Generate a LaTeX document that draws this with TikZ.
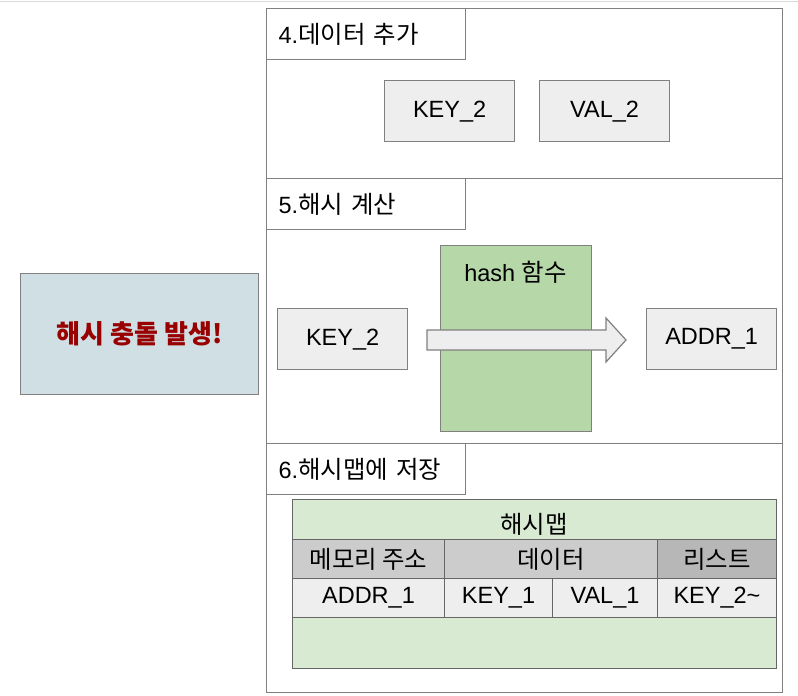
\documentclass[tikz,border=0pt]{standalone}
\usepackage{fontspec}
\setmainfont{Liberation Sans}
\newfontfamily\kr{Noto Sans CJK KR}[Scale=1.04]
\usetikzlibrary{positioning}
\definecolor{bordergray}{HTML}{808080}
\definecolor{cellgray}{HTML}{EEEEEE}
\definecolor{hashgreen}{HTML}{B6D7A8}
\definecolor{mapgreen}{HTML}{D9EAD3}
\definecolor{headgray}{HTML}{CCCCCC}
\definecolor{headdark}{HTML}{B7B7B7}
\definecolor{alertbg}{HTML}{D0DFE3}
\definecolor{alertred}{HTML}{990000}
\tikzset{
  base/.style={draw=bordergray, line width=1.3pt, inner sep=0pt, anchor=north west, font=\fontsize{23.5}{26}\selectfont},
  section/.style={base, fill=white},
  titlebox/.style={base, fill=white, minimum width=199pt, minimum height=51pt, align=left, text width=175pt},
  item/.style={base, fill=cellgray, minimum width=130pt, minimum height=61pt},
  cell/.style={base, draw=black!60, line width=1pt, minimum height=39pt},
}
\begin{document}
\begin{tikzpicture}[x=1pt,y=-1pt]
\useasboundingbox (0,0) rectangle (798,696);
\draw[black!15, line width=1pt] (0,1) -- (798,1);
% left alert box
\node[base, fill=alertbg, minimum width=238pt, minimum height=121pt] (alert) at (20,273) {};
\node[font=\kr\bfseries\fontsize{25}{28}\selectfont, text=alertred] (alerttxt) at (alert.center) {해시 충돌 발생!};
% section 4
\node[section, minimum width=516pt, minimum height=170pt] (s4) at (266,8) {};
\node[titlebox] (t4) at (266,8) {4.{\kr 데이터 추가}};
\node[item] (k2a) at (384,80) {KEY\_2};
\node[item] (v2a) at (539,80) {VAL\_2};
% section 5
\node[section, minimum width=516pt, minimum height=265pt] (s5) at (266,178) {};
\node[titlebox] (t5) at (266,178) {5.{\kr 해시 계산}};
\node[base, fill=hashgreen, minimum width=151pt, minimum height=186pt] (hash) at (440,245) {};
\node[font=\fontsize{23.5}{26}\selectfont] (hashtxt) at (515.5,272) {hash {\kr 함수}};
\node[item] (k2b) at (277,308) {KEY\_2};
\node[item] (addr) at (646,308) {ADDR\_1};
\draw[draw=bordergray, line width=1.2pt, fill=cellgray]
  (427,330) -- (606,330) -- (606,318) -- (626,340) -- (606,362) -- (606,350) -- (427,350) -- cycle;
% section 6
\node[section, minimum width=516pt, minimum height=249pt] (s6) at (266,443) {};
\node[titlebox] (t6) at (266,443) {6.{\kr 해시맵에 저장}};
\node[base, draw=black!60, line width=1pt, fill=mapgreen, minimum width=484pt, minimum height=169pt] (map) at (292,499) {};
\node[font=\kr\fontsize{23.5}{26}\selectfont] (maptitle) at (534,524) {해시맵};
\node[cell, fill=headgray, minimum width=152pt] (h1) at (292,539) {\kr 메모리 주소};
\node[cell, fill=headgray, minimum width=213pt] (h2) at (444,539) {\kr 데이터};
\node[cell, fill=headdark, minimum width=119pt] (h3) at (657,539) {\kr 리스트};
\node[cell, fill=cellgray, minimum width=152pt] (d1) at (292,578) {ADDR\_1};
\node[cell, fill=cellgray, minimum width=108pt] (d2) at (444,578) {KEY\_1};
\node[cell, fill=cellgray, minimum width=105pt] (d3) at (552,578) {VAL\_1};
\node[cell, fill=cellgray, minimum width=119pt] (d4) at (657,578) {KEY\_2\textasciitilde};
\end{tikzpicture}
\end{document}
